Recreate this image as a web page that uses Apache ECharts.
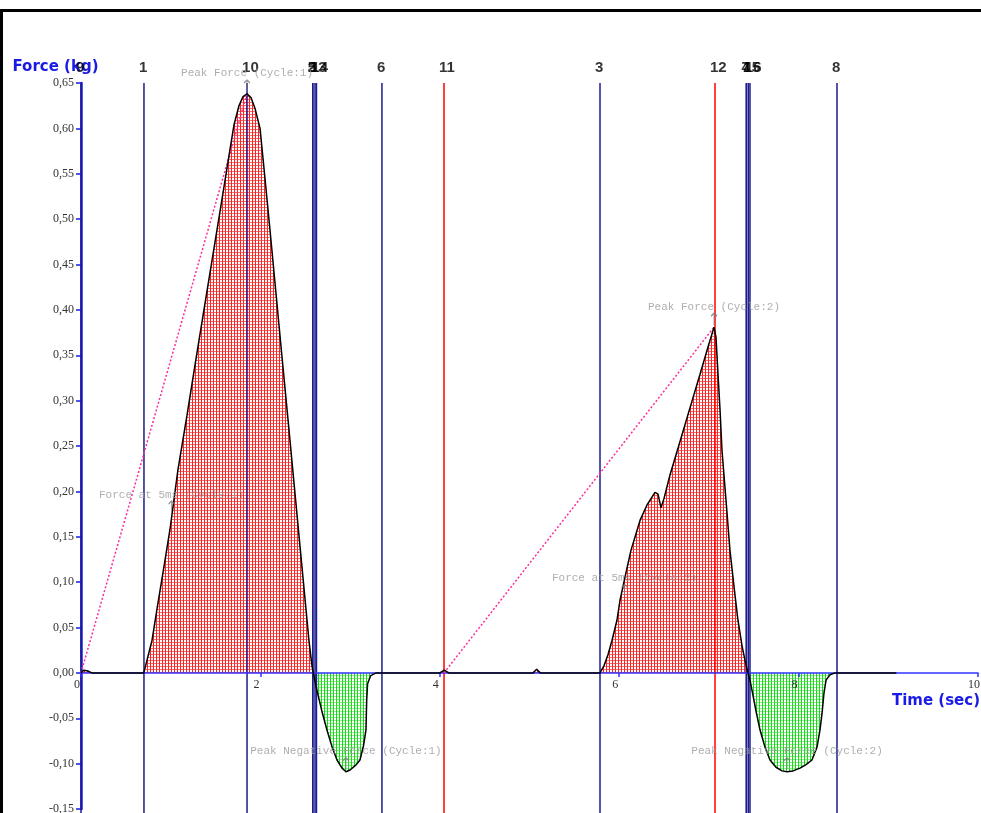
<!DOCTYPE html>
<html>
<head>
<meta charset="utf-8">
<title>Force vs Time</title>
<script src="https://cdn.jsdelivr.net/npm/echarts@6/dist/echarts.min.js"></script>
<style>
  html, body { margin: 0; padding: 0; background: #fff; }
  #chart { width: 981px; height: 813px; }
</style>
</head>
<body>
<div id="chart"></div>
<script>
// Force trace (kg) sampled against time (sec)
const timeSec = [
  0.000, 0.030, 0.080, 0.120, 0.500, 0.700, 0.736, 0.792, 0.858, 0.925,
  0.992, 1.081, 1.182, 1.282, 1.382, 1.483, 1.572, 1.650, 1.706, 1.761,
  1.806, 1.851, 1.895, 1.940, 1.996, 2.051, 2.107, 2.174, 2.241, 2.308,
  2.375, 2.441, 2.497, 2.542, 2.575, 2.590, 2.620, 2.690, 2.742, 2.800,
  2.854, 2.910, 2.954, 3.000, 3.060, 3.110, 3.150, 3.177, 3.185, 3.195,
  3.230, 3.290, 4.000, 4.050, 4.100, 5.040, 5.080, 5.120, 5.786, 5.831,
  5.875, 5.920, 5.975, 6.009, 6.070, 6.131, 6.232, 6.310, 6.399, 6.433,
  6.466, 6.499, 6.566, 6.678, 6.789, 6.901, 6.990, 7.057, 7.079, 7.101,
  7.124, 7.146, 7.191, 7.235, 7.280, 7.324, 7.369, 7.402, 7.436, 7.458,
  7.492, 7.525, 7.570, 7.626, 7.681, 7.748, 7.815, 7.871, 7.938, 8.016,
  8.083, 8.149, 8.205, 8.238, 8.261, 8.283, 8.306, 8.350, 8.406, 9.090
];
const forceKg = [
  0.000, 0.003, 0.002, 0.000, 0.000, 0.000, 0.014, 0.036, 0.077, 0.117,
  0.158, 0.224, 0.284, 0.346, 0.407, 0.468, 0.522, 0.570, 0.604, 0.625,
  0.635, 0.638, 0.634, 0.622, 0.600, 0.545, 0.488, 0.418, 0.348, 0.279,
  0.209, 0.140, 0.082, 0.035, 0.008, 0.000, -0.015, -0.044, -0.063, -0.082,
  -0.096, -0.105, -0.109, -0.107, -0.102, -0.096, -0.080, -0.063, -0.030, -0.012,
  -0.003, 0.000, 0.000, 0.003, 0.000, 0.000, 0.004, 0.000, 0.000, 0.008,
  0.020, 0.036, 0.058, 0.080, 0.108, 0.135, 0.168, 0.185, 0.199, 0.197,
  0.182, 0.192, 0.218, 0.255, 0.292, 0.329, 0.359, 0.381, 0.370, 0.330,
  0.290, 0.245, 0.190, 0.135, 0.095, 0.058, 0.030, 0.014, 0.000, -0.008,
  -0.025, -0.042, -0.063, -0.082, -0.096, -0.104, -0.108, -0.109, -0.108, -0.105,
  -0.101, -0.096, -0.082, -0.063, -0.045, -0.022, -0.008, -0.002, 0.000, 0.000
];

// Event markers along the time axis
const markerNames = ['9', '1', '10', '5', '2', '13', '14', '6', '11', '3', '12', '7', '4', '15', '16', '8'];
const markerTimes = [0.000, 0.702, 1.851, 2.584, 2.584, 2.609, 2.625, 3.355, 4.047, 5.786, 7.068, 7.418, 7.418, 7.440, 7.458, 8.428];
const redMarkers = ['11', '12'];

// Cycle onsets and peaks (connected by the dotted rate lines)
const onsetTimes = [0.000, 4.047];
const onsetForces = [0.000, 0.000];
const peakTimes = [1.851, 7.057];
const peakForces = [0.638, 0.381];

// Annotated points
const noteTexts = [
  'Peak Force (Cycle:1)', 'Peak Force (Cycle:2)',
  'Force at 5ms (Cycle:1)', 'Force at 5ms (Cycle:2)',
  'Peak Negative Force (Cycle:1)', 'Peak Negative Force (Cycle:2)'
];
const noteTimes = [1.851, 7.057, 1.010, 6.060, 2.954, 7.871];
const noteForces = [0.638, 0.381, 0.174, 0.082, -0.109, -0.109];

// Axis ranges
const yMin = -0.15, yMax = 0.65, yStep = 0.05;
const xMin = 0, xMax = 10, xStep = 2;

// Plot box (pixels)
const gridTop = 83, gridBottom = 4, gridLeft = 81, gridRight = 3, chartH = 813;

function dotPattern(main, light) {
  const c = document.createElement('canvas');
  c.width = 3; c.height = 3;
  const g = c.getContext('2d');
  g.fillStyle = '#ffffff';
  g.fillRect(0, 0, 3, 3);
  g.fillStyle = main;
  g.fillRect(0, 0, 1, 3);
  g.fillStyle = light;
  g.fillRect(1, 0, 2, 1);
  return c;
}

const trace = timeSec.map((t, i) => [t, forceKg[i]]);
const positivePart = timeSec.map((t, i) => [t, Math.max(forceKg[i], 0)]);
const negativePart = timeSec.map((t, i) => [t, Math.min(forceKg[i], 0)]);

// The time axis sits on the zero-force line: shift it up from the plot bottom
const plotH = chartH - gridTop - gridBottom;
const zeroShift = plotH * (0 - yMin) / (yMax - yMin);

const navy = '#1c1c8c';
const axisBlue = '#1a1ae6';

const series = [];

series.push({
  type: 'line', name: 'positive', data: positivePart, symbol: 'none', silent: true, z: 1,
  lineStyle: { width: 0 },
  areaStyle: { color: { image: dotPattern('#ff2020', '#ff6a6a'), repeat: 'repeat' }, opacity: 1 }
});
series.push({
  type: 'line', name: 'negative', data: negativePart, symbol: 'none', silent: true, z: 1,
  lineStyle: { width: 0 },
  areaStyle: { color: { image: dotPattern('#10dd10', '#8aee8a'), repeat: 'repeat' }, opacity: 1 }
});

markerTimes.forEach((t, i) => {
  series.push({
    type: 'line', data: [[t, yMax], [t, yMin - 0.02]], symbol: 'none', silent: true, clip: false, z: 2,
    lineStyle: { color: redMarkers.includes(markerNames[i]) ? '#ff0000' : navy, width: 1.5 }
  });
});

onsetTimes.forEach((t, i) => {
  series.push({
    type: 'line', data: [[t, onsetForces[i]], [peakTimes[i], peakForces[i]]], symbol: 'none', silent: true, z: 3,
    lineStyle: { color: '#ff2b9c', width: 1.5, type: [2, 2] }
  });
});

series.push({
  type: 'line', name: 'Force', data: trace, symbol: 'none', silent: true, z: 4,
  lineStyle: { color: '#000000', width: 1.5 }
});

series.push({
  type: 'scatter', silent: true, z: 5,
  data: markerTimes.map((t, i) => [t, yMax, markerNames[i]]),
  symbolSize: 0,
  label: {
    show: true, position: 'top', distance: 8, align: 'left', offset: [-5, 0],
    formatter: p => p.data[2],
    fontFamily: 'Liberation Sans', fontWeight: 'bold', fontSize: 15, color: '#000'
  }
});

series.push({
  type: 'scatter', silent: true, z: 6,
  data: noteTimes.map((t, i) => ({ value: [t, noteForces[i]], name: noteTexts[i] })),
  symbol: 'path://M3,0L0,3M3,0L6,3M3,0L3,12',
  symbolSize: [6, 12],
  symbolOffset: [0, -8],
  itemStyle: { color: 'transparent', borderColor: '#7a7a7a', borderWidth: 1.2 },
  label: {
    show: true, position: 'top', distance: 0,
    formatter: '{b}',
    fontFamily: 'Liberation Mono', fontSize: 11, color: '#9a9a9a'
  }
});

const chart = echarts.init(document.getElementById('chart'), null, { renderer: 'canvas' });
chart.setOption({
  animation: false,
  backgroundColor: '#ffffff',
  grid: {
    left: gridLeft, right: gridRight, top: gridTop, bottom: gridBottom,
    containLabel: false, outerBoundsMode: 'none'
  },
  xAxis: {
    type: 'value', min: xMin, max: xMax, interval: xStep,
    offset: -zeroShift, z: 3,
    name: 'Time (sec)', nameLocation: 'end', nameGap: 2,
    nameTextStyle: {
      color: axisBlue, fontFamily: 'DejaVu Sans', fontWeight: 'bold', fontSize: 15,
      align: 'right', verticalAlign: 'top', padding: [21, 0, 0, 0]
    },
    axisLine: { onZero: false, lineStyle: { color: '#3333ff', width: 1.5 } },
    axisTick: { show: true, length: 4, lineStyle: { color: '#3333ff', width: 1.5 } },
    axisLabel: {
      fontFamily: 'Liberation Serif', fontSize: 12, color: '#333', margin: 6,
      padding: [0, 8, 0, 0]
    },
    splitLine: { show: false }
  },
  yAxis: {
    type: 'value', min: yMin, max: yMax, interval: yStep,
    name: 'Force (kg)', nameLocation: 'end', nameGap: 16,
    nameTextStyle: {
      color: axisBlue, fontFamily: 'DejaVu Sans', fontWeight: 'bold', fontSize: 15,
      align: 'center', verticalAlign: 'middle', padding: [0, 51, 0, 0]
    },
    axisLine: { lineStyle: { color: axisBlue, width: 2.5 } },
    axisTick: { show: true, length: 5, lineStyle: { color: axisBlue, width: 1.5 } },
    axisLabel: {
      fontFamily: 'Liberation Serif', fontSize: 12, color: '#333', margin: 7,
      formatter: v => v.toFixed(2).replace('.', ',')
    },
    splitLine: { show: false }
  },
  graphic: [{
    type: 'rect', silent: true, z: 100,
    shape: { x: 1.5, y: 10.5, width: 1200, height: 1000 },
    style: { fill: 'none', stroke: '#000', lineWidth: 3 }
  }],
  series: series
});
</script>
</body>
</html>
